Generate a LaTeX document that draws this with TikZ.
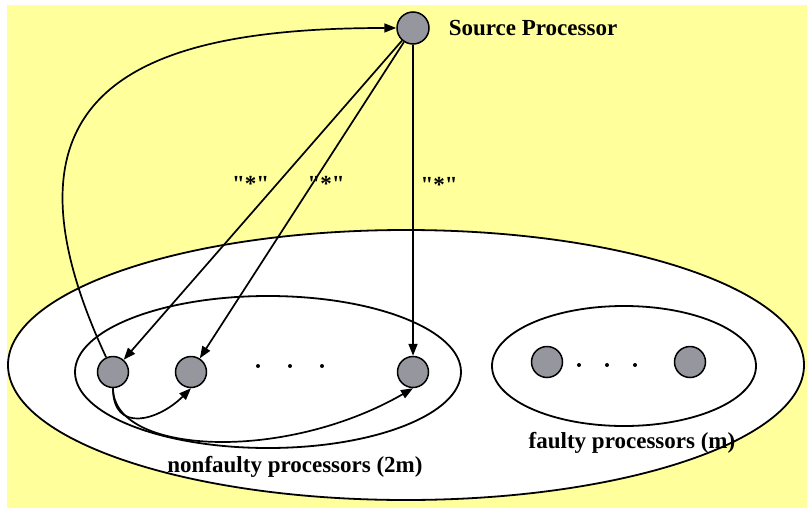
\documentclass[tikz,border=0pt]{standalone}
\usepackage{fontspec}
\setmainfont{Liberation Serif}[Ligatures=TeXOff]
\usetikzlibrary{arrows.meta, positioning}
\definecolor{paper}{RGB}{255,255,155}
\definecolor{procfill}{RGB}{150,150,158}

\begin{document}
\begin{tikzpicture}[
    x=0.5pt, y=-0.5pt,
    proc/.style={circle, draw=black, fill=procfill, line width=0.75pt,
                 minimum size=15.5pt, inner sep=0pt},
    lbl/.style={font=\bfseries\fontsize{11.5}{13}\selectfont},
    group/.style={draw=black, fill=white, line width=0.9pt},
    arr/.style={-{Triangle[length=6pt, width=4.5pt]}, line width=0.85pt}
]
% page and background
\useasboundingbox (0,0) rectangle (807,508);
\fill[paper] (7,5) rectangle (807,508);

% groups of processors
\filldraw[group] (406,365) ellipse (199pt and 67.5pt);
\filldraw[group] (268,372) ellipse (96.5pt and 38pt);
\filldraw[group] (624,366) ellipse (66pt and 30pt);

% processors
\node[proc, minimum size=16pt] (src) at (413,28) {};
\node[lbl, right=6pt of src] (srclbl) {Source Processor};
\node[proc] (n1) at (113,372) {};
\node[proc] (n2) at (191,372) {};
\node[proc] (n3) at (413,372) {};
\node[proc] (f1) at (547,362) {};
\node[proc] (f2) at (690,362) {};
\foreach \x in {258,290,322} \fill (\x,366) circle (1pt);
\foreach \x in {579,607,635} \fill (\x,365) circle (1pt);

\node[lbl] (nflbl) at (295,467) {nonfaulty processors (2m)};
\node[lbl] (flbl) at (632,443) {faulty processors (m)};

% messages
\draw[arr] (src) -- node[lbl, pos=0.45, left] {"*"} (n1);
\draw[arr] (src) -- node[lbl, pos=0.45, right=-6pt] {"*"} (n2);
\draw[arr] (src) -- node[lbl, pos=0.45, right] {"*"} (n3);
\draw[arr] (n1) to[out=115, in=180, out distance=150pt, in distance=125pt] (src);
\draw[arr] (n1.south) to[out=-90, in=-135, looseness=1.5] (n2.south);
\draw[arr] (n1.south) to[out=-90, in=-150, out distance=33pt, in distance=75pt] (n3.south);
\end{tikzpicture}
\end{document}
